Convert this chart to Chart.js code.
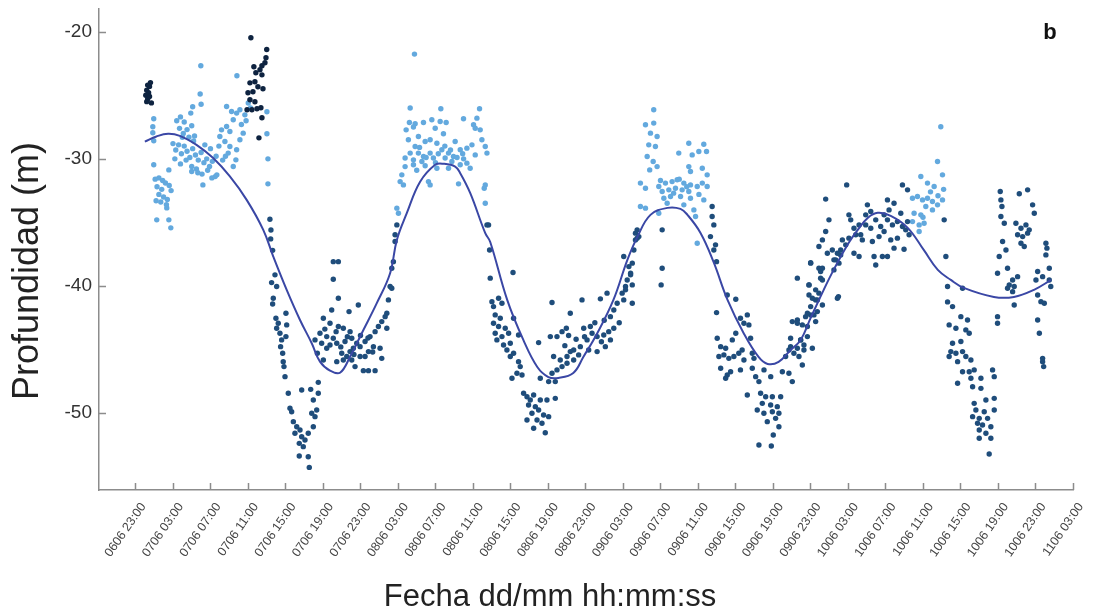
<!DOCTYPE html>
<html>
<head>
<meta charset="utf-8">
<script src="https://cdn.jsdelivr.net/npm/chart.js@4.4.0/dist/chart.umd.min.js"></script>
<style>
  html, body { margin: 0; padding: 0; background: #fff; }
</style>
</head>
<body>
<canvas id="grafico" width="1101" height="609"></canvas>
<script>
// Horas contadas desde 06/06 23:00, profundidad en metros
const horasTicks = [0, 4, 8, 12, 16, 20, 24, 28, 32, 36, 40, 44, 48, 52, 56, 60, 64, 68, 72, 76, 80, 84, 88, 92, 96, 100];
const fechaEtiquetas = [
  '0606 23:00', '0706 03:00', '0706 07:00', '0706 11:00', '0706 15:00', '0706 19:00', '0706 23:00',
  '0806 03:00', '0806 07:00', '0806 11:00', '0806 15:00', '0806 19:00', '0806 23:00',
  '0906 03:00', '0906 07:00', '0906 11:00', '0906 15:00', '0906 19:00', '0906 23:00',
  '1006 03:00', '1006 07:00', '1006 11:00', '1006 15:00', '1006 19:00', '1006 23:00', '1106 03:00'
];
const profTicks = [-50, -40, -30, -20];

// primeras horas (registros más oscuros)
const puntosOscuros = [
  [1.1,-25.0],[1.2,-24.6],[1.3,-25.3],[1.4,-24.8],[1.5,-24.3],[1.6,-24.0],[1.7,-25.6],[1.3,-24.2],[1.5,-25.1],[1.2,-25.5],
  [12.31,-20.47],[14.0,-21.4],[13.92,-22.05],[13.81,-22.44],[12.63,-22.76],[12.84,-23.23],[13.28,-22.99],[13.49,-22.68],
  [13.49,-23.39],[12.21,-24.02],[12.74,-23.94],[13.06,-24.33],[13.6,-24.49],[12.0,-24.8],[12.53,-24.72],[12.21,-25.35],
  [12.74,-25.51],[11.9,-26.14],[12.42,-26.14],[12.96,-26.06],[13.38,-25.98],[13.49,-26.77],[13.17,-28.35]
];

// registros diurnos
const puntosDia = [
  [1.95,-26.85],[1.85,-27.48],[1.85,-27.95],[1.95,-28.58],[1.95,-30.47],[3.56,-30.87],
  [2.1,-31.6],[2.5,-31.5],[2.9,-31.7],[3.2,-31.9],[3.6,-32.1],[3.8,-32.5],[2.3,-32.2],[2.8,-32.4],[2.5,-32.8],[3.0,-33.0],
  [3.4,-33.2],[2.2,-33.3],[2.7,-33.4],[3.3,-33.6],[3.34,-33.86],[2.27,-34.8],[3.56,-34.8],[3.77,-35.43],
  [4.4,-27.0],[4.8,-26.7],[5.2,-27.1],[4.7,-27.6],[5.1,-28.0],[5.5,-27.7],[6.0,-27.4],[5.7,-28.3],[6.3,-28.2],[6.1,-25.9],
  [7.0,-25.7],[6.9,-24.9],[5.9,-26.4],[6.97,-22.68],[10.82,-23.46],
  [4.0,-28.8],[4.3,-29.3],[4.6,-28.9],[4.9,-29.6],[5.2,-29.0],[5.5,-29.4],[5.8,-29.9],[6.1,-29.2],[6.4,-29.7],[6.7,-30.1],
  [7.0,-29.5],[7.3,-30.3],[7.6,-30.0],[7.9,-30.6],[8.2,-30.2],[4.2,-30.0],[4.8,-30.4],[5.4,-30.1],[6.0,-30.6],[6.5,-30.8],
  [7.1,-31.2],[7.7,-30.9],[8.5,-31.4],[5.0,-28.3],[6.2,-28.6],[7.4,-28.9],[8.0,-29.2],[8.6,-29.8],
  [7.19,-32.05],[8.15,-31.5],[8.68,-31.26],[6.0,-31.0],[6.65,-31.1],
  [9.72,-25.88],[10.25,-26.27],[10.79,-26.4],[11.14,-26.14],[11.67,-26.54],[10.43,-26.93],[9.72,-27.46],[10.07,-27.85],
  [9.18,-27.72],[9.0,-28.24],[9.54,-28.64],[10.07,-29.03],[10.79,-29.29],[11.14,-28.5],[11.49,-27.98],[10.71,-30.08],
  [9.89,-29.55],[10.43,-30.6],[9.3,-30.1],[9.6,-29.8],[8.9,-29.0],[11.3,-27.3],[11.8,-27.0],
  [12.03,-25.61],[12.28,-26.0],[14.02,-26.3],[14.02,-28.03],[14.13,-30.0],[14.13,-31.97],
  // 08/06
  [27.88,-33.88],[28.05,-34.28],[29.76,-21.76],[29.3,-26.0],[32.57,-26.06],[36.7,-26.06],[29.22,-27.14],[29.83,-27.24],
  [30.72,-27.14],[31.61,-26.93],[32.5,-27.06],[33.14,-27.14],[34.99,-26.85],[36.06,-27.32],[36.42,-26.8],[28.87,-27.72],
  [29.65,-27.5],[30.18,-28.24],[31.97,-27.59],[32.85,-28.03],[36.24,-27.59],[36.77,-27.72],[36.95,-28.5],[37.31,-29.03],
  [37.49,-29.55],[29.11,-28.5],[29.83,-29.03],[30.9,-28.64],[31.43,-28.5],[32.15,-28.77],[34.1,-28.64],[29.3,-29.55],
  [30.18,-29.55],[30.72,-29.82],[31.43,-29.55],[32.68,-29.29],[33.39,-29.55],[33.92,-29.82],[34.64,-29.29],[35.35,-29.16],
  [35.89,-28.9],[28.76,-29.94],[29.65,-30.08],[30.55,-30.21],[31.78,-29.94],[33.03,-29.94],[33.75,-30.21],[34.64,-30.47],
  [35.35,-30.34],[29.65,-30.47],[28.76,-30.61],[30.9,-30.55],[32.15,-30.74],[33.39,-30.74],[28.41,-31.26],[28.23,-31.79],
  [28.58,-32.05],[31.25,-31.79],[31.43,-32.05],[34.46,-31.97],[37.31,-32.05],[37.2,-32.31],[37.31,-33.49],[35.7,-30.74],
  [36.24,-29.69],[33.0,-29.0],[34.3,-29.9],[32.0,-30.3],[30.3,-29.1],[35.0,-30.0],[31.0,-29.9],[33.6,-29.3],[34.9,-29.6],
  [32.3,-29.6],[30.0,-30.9],
  // 09/06
  [55.28,-26.14],[54.4,-27.32],[55.28,-27.19],[54.93,-27.98],[55.64,-28.24],[54.75,-28.9],[55.46,-29.03],[54.58,-29.82],
  [55.22,-30.21],[54.85,-30.87],[55.64,-30.61],[59.02,-28.77],[60.62,-28.85],[57.95,-29.55],[59.38,-29.69],[60.09,-29.42],
  [60.91,-29.42],[59.02,-30.61],[60.46,-30.74],[59.2,-31.0],[60.98,-31.26],[53.86,-31.91],[54.4,-32.31],[55.82,-32.18],
  [56.53,-31.91],[57.24,-31.79],[57.78,-31.65],[58.49,-31.91],[59.2,-32.05],[59.92,-32.18],[60.46,-31.91],[60.98,-32.18],
  [56.18,-32.57],[56.89,-32.44],[57.6,-32.31],[58.31,-32.44],[59.02,-32.57],[56.36,-33.1],[57.07,-32.97],[58.14,-32.97],
  [59.2,-33.1],[60.62,-33.23],[56.71,-33.49],[53.86,-33.75],[54.4,-33.88],[55.82,-34.28],[59.56,-34.02],[59.74,-34.54],
  [59.92,-36.64],[58.49,-33.62],[57.4,-32.7],[58.8,-32.2],[60.1,-32.8],[56.0,-31.7],[58.0,-31.6],
  // 10/06
  [85.55,-30.21],[86.08,-31.26],[83.77,-31.39],[84.48,-31.91],[85.19,-32.18],[82.88,-33.1],[83.41,-32.97],[83.95,-33.23],
  [84.48,-33.1],[85.01,-33.36],[85.55,-33.62],[86.08,-33.23],[84.3,-33.75],[85.01,-34.02],[83.05,-34.28],[83.77,-34.41],
  [82.88,-34.94],[83.59,-35.2],[84.12,-35.07],[83.59,-35.72],[85.9,-27.48],[84.8,-32.6],[85.6,-32.9],[86.2,-32.4],[84.0,-34.6]
];

// registros nocturnos
const puntosNoche = [
  [14.34,-34.75],[14.45,-35.6],[14.42,-36.3],[14.63,-37.2],[14.88,-39.13],[14.52,-39.74],[15.06,-40.05],[14.7,-40.97],
  [14.63,-41.42],[14.98,-42.54],[15.23,-42.94],[15.06,-43.33],[15.41,-43.73],[15.59,-44.25],[15.48,-44.78],[15.7,-45.3],
  [15.76,-45.96],[15.84,-46.35],[15.95,-47.14],[16.05,-42.15],[16.13,-43.07],[16.05,-43.99],[16.3,-48.45],[16.48,-49.63],
  [16.66,-49.9],[16.84,-50.68],[17.2,-51.08],[17.01,-51.6],[17.55,-51.34],[17.73,-51.87],[17.47,-52.39],[18.08,-52.13],
  [18.43,-51.6],[17.9,-52.65],[17.47,-53.39],[18.43,-53.44],[18.54,-54.28],[17.73,-48.19],[18.69,-48.14],[19.5,-47.59],
  [19.5,-48.45],[18.97,-48.98],[19.33,-49.76],[19.15,-50.29],[18.97,-51.08],[18.8,-50.02],
  [21.1,-38.09],[21.64,-38.09],[21.1,-39.48],[21.64,-40.97],[20.93,-41.89],[23.77,-41.5],[22.78,-42.02],[20.04,-42.54],
  [20.75,-42.94],[21.64,-43.2],[22.17,-43.33],[22.89,-43.6],[19.68,-43.73],[20.4,-43.99],[21.1,-44.12],[19.15,-44.25],
  [19.86,-44.51],[20.75,-44.65],[21.47,-44.51],[22.35,-44.38],[23.07,-44.12],[23.6,-44.51],[23.96,-44.78],[24.49,-44.38],
  [25.02,-43.99],[25.56,-43.6],[25.91,-43.2],[26.27,-42.81],[26.63,-42.42],[26.81,-43.33],[25.38,-44.78],[26.09,-44.91],
  [24.85,-45.17],[22.89,-45.17],[22.0,-45.3],[22.54,-45.56],[20.04,-45.83],[21.47,-45.96],[22.17,-45.83],[23.42,-46.35],
  [24.31,-46.67],[24.85,-46.67],[25.56,-46.67],[26.27,-45.7],[20.4,-44.91],[23.24,-44.91],[23.96,-45.56],[24.49,-45.56],
  [23.07,-45.83],[21.9,-44.8],[22.6,-44.0],[23.3,-45.4],[24.0,-43.9],[24.8,-44.1],[25.3,-45.2],[21.4,-43.6],[20.2,-43.4],
  [19.4,-45.3],
  [26.81,-42.15],[26.98,-41.1],[27.16,-40.05],[27.34,-40.18],[27.34,-38.61],[27.51,-38.09],[27.69,-36.51],[27.69,-35.98],
  [27.88,-35.2],[37.49,-35.2],
  // 08/06 noche
  [37.66,-35.2],[37.77,-37.17],[40.27,-38.95],[37.84,-39.39],[38.02,-41.24],[38.19,-41.63],[38.73,-40.97],[39.09,-41.36],
  [38.37,-42.28],[38.91,-42.54],[38.19,-42.94],[38.73,-43.2],[39.44,-43.33],[38.37,-43.73],[39.09,-43.99],[39.8,-43.73],
  [38.55,-44.25],[39.26,-44.65],[39.98,-44.51],[39.62,-45.04],[40.33,-45.3],[39.98,-45.56],[40.86,-45.96],[41.04,-46.35],
  [40.69,-46.87],[41.23,-47.01],[40.16,-47.27],[40.86,-43.86],[40.33,-42.54],[43.0,-44.46],[43.18,-47.27],[41.4,-48.45],
  [41.76,-48.72],[42.11,-48.98],[42.47,-48.58],[41.93,-49.37],[42.65,-49.5],[43.0,-49.76],[42.29,-50.02],[43.18,-48.98],
  [43.89,-48.98],[44.78,-48.85],[43.53,-50.16],[44.07,-50.29],[42.83,-50.55],[41.76,-50.55],[43.36,-50.81],[42.47,-51.2],
  [43.71,-51.55],
  [44.43,-41.31],[46.38,-42.15],[47.63,-41.1],[49.59,-41.02],[44.25,-43.99],[44.96,-43.99],[45.96,-43.33],[45.5,-43.6],
  [44.6,-45.56],[45.31,-45.83],[46.03,-45.56],[46.74,-45.04],[47.45,-44.78],[48.17,-44.25],[48.7,-43.73],[49.24,-43.99],
  [49.95,-43.86],[50.48,-43.6],[51.02,-43.33],[47.81,-43.33],[48.52,-43.2],[44.43,-46.87],[44.96,-46.61],[45.5,-46.35],
  [46.03,-46.09],[46.74,-45.83],[47.27,-45.43],[46.38,-45.17],[48.34,-45.04],[49.24,-45.17],[50.12,-44.78],[50.66,-44.25],
  [44.07,-47.53],[44.78,-47.53],[50.66,-42.42],[51.02,-41.89],[51.38,-41.36],[51.91,-40.57],[52.27,-40.05],[52.45,-39.53],
  [52.81,-39.13],[52.63,-38.48],[52.08,-37.69],[52.99,-39.92],[52.99,-41.36],[53.33,-35.85],[53.51,-36.24],
  [47.0,-44.2],[47.9,-44.0],[49.7,-44.4],[45.8,-44.7],[46.2,-43.9],[49.0,-42.9],[50.0,-42.7],[51.6,-42.9],
  // 09/06
  [53.51,-35.59],[53.69,-36.12],[53.33,-36.38],[53.16,-37.17],[56.18,-35.59],[56.18,-38.61],[56.07,-39.92],[52.99,-38.21],
  [52.81,-39.0],[52.27,-40.31],[52.08,-41.1],[50.3,-40.57],[61.51,-33.75],[61.51,-34.54],[61.69,-35.2],[61.33,-36.12],
  [61.87,-36.77],[61.98,-38.09],[64.03,-41.05],[63.12,-40.71],
  [61.69,-37.17],[61.98,-42.1],[64.53,-42.54],[65.26,-42.28],[64.9,-42.94],[65.43,-43.07],[62.05,-44.12],[62.42,-44.78],
  [62.95,-44.91],[63.66,-44.25],[64.03,-43.73],[62.23,-45.56],[62.76,-45.43],[63.29,-45.7],[63.83,-45.56],[64.35,-45.3],
  [64.71,-45.04],[64.9,-45.83],[65.61,-44.12],[65.79,-45.3],[65.97,-45.7],[62.42,-46.48],[63.12,-47.01],[63.48,-46.75],
  [64.53,-46.61],[65.79,-46.48],[62.95,-47.27],[67.04,-46.61],[66.15,-47.14],[66.5,-47.53],[67.76,-47.14],[65.26,-48.58],
  [66.68,-48.45],[67.22,-48.72],[67.93,-48.72],[68.82,-48.72],[66.86,-49.24],[67.75,-49.37],[68.46,-49.5],[66.32,-49.76],
  [67.03,-50.02],[67.93,-49.9],[68.63,-50.02],[67.39,-50.68],[68.28,-50.42],[68.63,-51.08],[68.03,-51.73],[66.5,-52.52],
  [67.82,-52.6],
  [69.0,-46.75],[69.7,-46.87],[70.06,-47.53],[69.35,-45.56],[69.7,-45.04],[70.23,-45.3],[70.77,-45.56],[71.13,-46.22],
  [69.88,-44.78],[70.6,-44.91],[71.3,-45.04],[72.2,-44.91],[69.88,-44.12],[70.95,-44.25],[71.3,-44.65],[70.06,-42.81],
  [70.6,-42.68],[71.13,-43.07],[71.67,-43.2],[71.48,-42.42],[72.02,-42.28],[72.55,-42.81],[72.73,-42.02],[72.02,-41.63],
  [72.55,-41.1],[71.84,-40.71],[72.9,-40.57],[70.6,-39.39],[71.84,-39.92],[72.55,-40.31],[73.27,-41.5],[72.02,-38.21],
  [72.9,-38.61],[73.08,-38.87],[73.27,-39.53],[74.87,-40.97],[74.5,-37.95],[75.04,-38.21],[75.22,-37.56],[73.8,-37.43],
  // 10/06
  [75.86,-32.05],[73.62,-33.17],[73.97,-34.8],[73.62,-35.72],[73.27,-36.38],[72.9,-36.9],[72.02,-38.17],[73.27,-38.61],
  [73.08,-39.39],[71.84,-39.92],[72.2,-40.97],[72.73,-41.1],[71.67,-42.15],[72.37,-42.28],[70.6,-42.94],[74.5,-38.74],
  [74.69,-37.95],[74.87,-37.43],[74.33,-37.17],[75.22,-37.17],[75.76,-36.77],[75.4,-36.38],[76.1,-36.24],[76.83,-35.98],
  [77.36,-35.98],[76.64,-35.46],[76.29,-34.8],[76.1,-34.41],[77.18,-35.2],[77.89,-35.2],[78.43,-35.46],[77.53,-36.38],
  [78.6,-36.51],[79.31,-36.12],[79.85,-35.72],[78.07,-33.62],[78.43,-34.15],[77.89,-34.41],[78.96,-34.8],[79.49,-35.33],
  [80.21,-34.8],[80.74,-35.2],[81.27,-34.94],[81.81,-35.33],[82.35,-34.94],[80.21,-33.23],[80.91,-33.49],[80.38,-34.02],
  [79.85,-34.41],[81.81,-32.05],[82.35,-32.44],[81.63,-34.28],[82.16,-35.59],[82.52,-35.98],[80.56,-36.38],[81.27,-36.24],
  [80.91,-37.03],[81.98,-37.11],[78.78,-37.69],[79.67,-37.69],[80.21,-37.69],[78.96,-38.35],[77.18,-37.69],[76.64,-37.43],
  [74.98,-40.84],[71.67,-43.99],[70.95,-44.25],[86.26,-34.8],[86.44,-37.69],[86.62,-40.05],
  [86.62,-41.26],[87.15,-41.63],[88.22,-40.18],[88.04,-42.42],[88.75,-42.68],[86.79,-43.07],[87.51,-43.33],[88.57,-43.46],
  [88.93,-43.73],[87.15,-44.51],[88.04,-44.38],[86.97,-45.17],[87.51,-45.3],[88.22,-45.17],[88.57,-45.56],[86.79,-45.56],
  [87.69,-45.96],[89.11,-45.83],[88.22,-46.75],[88.93,-46.75],[89.46,-46.61],[87.69,-47.66],[89.11,-47.27],[90.18,-47.27],
  [91.42,-46.61],[91.6,-47.14],[89.29,-47.93],[90.18,-48.06],[90.71,-48.98],[89.46,-49.24],[91.6,-48.85],[89.64,-49.76],
  [90.53,-49.9],[91.6,-49.76],[89.29,-50.29],[90.0,-50.42],[90.89,-50.42],[89.82,-50.81],[90.35,-50.94],[91.24,-51.08],
  [90.0,-51.34],[90.71,-51.6],[90.0,-51.99],[91.24,-51.99],[91.06,-53.23],[91.95,-42.42],[91.95,-42.94],
  [92.24,-32.57],[94.27,-32.75],[95.16,-32.44],[92.31,-33.23],[92.42,-33.75],[95.69,-33.62],[92.31,-34.54],[92.67,-35.07],
  [95.87,-34.28],[93.91,-35.07],[94.45,-35.46],[94.98,-35.2],[95.33,-35.59],[94.09,-35.98],[94.63,-36.12],[95.16,-35.85],
  [94.45,-36.64],[94.8,-36.9],[92.49,-36.51],[92.85,-37.17],[92.13,-37.69],[93.02,-38.61],[91.95,-39.0],[94.09,-39.27],
  [93.56,-39.53],[93.2,-39.92],[93.02,-40.18],[93.73,-40.05],[93.56,-40.45],[93.73,-41.5],[97.11,-36.64],[97.22,-37.03],
  [97.11,-37.56],[97.47,-38.61],[96.23,-38.87],[96.76,-39.27],[97.47,-39.53],[96.05,-39.53],[97.63,-40.05],[96.23,-40.71],
  [96.58,-41.24],[96.94,-41.36],[96.23,-42.68],[96.41,-43.73],[96.76,-45.7],[96.76,-45.96],[96.87,-46.35]
];

// curva suavizada
const tendencia = [
  [1.0,-28.64],[2.24,-28.24],[3.48,-28.03],[4.73,-28.19],[6.51,-28.9],[8.29,-29.94],[10.07,-31.39],[11.86,-33.23],
  [13.63,-35.59],[14.7,-37.69],[16.13,-40.31],[17.55,-42.68],[18.8,-44.51],[19.68,-45.96],[20.75,-46.67],[21.82,-46.83],
  [22.89,-45.57],[24.14,-43.72],[25.74,-41.36],[27.16,-39.0],[27.88,-36.38],[28.94,-34.28],[30.36,-31.81],[31.97,-30.47],
  [32.85,-30.39],[34.1,-30.61],[34.64,-31.13],[35.71,-32.7],[37.31,-35.85],[37.84,-36.54],[39.65,-41.1],[41.37,-44.25],
  [42.86,-46.38],[44.04,-47.17],[45.1,-47.24],[46.7,-46.85],[47.77,-45.59],[49.27,-43.7],[50.98,-41.1],[52.47,-37.95],
  [53.54,-36.14],[54.93,-34.41],[56.75,-33.86],[58.13,-33.94],[58.88,-34.41],[60.27,-35.83],[61.66,-38.11],[63.15,-41.1],
  [64.86,-43.7],[66.46,-45.59],[67.43,-46.14],[68.6,-45.98],[69.88,-45.04],[70.95,-44.25],[72.02,-42.52],[73.41,-40.31],
  [74.47,-38.74],[76.08,-36.61],[77.04,-35.59],[78.1,-34.65],[79.17,-34.25],[80.56,-34.49],[82.37,-35.43],[84.08,-37.17],
  [85.58,-38.74],[86.97,-39.53],[88.36,-40.16],[91.56,-40.87],[93.7,-40.87],[95.84,-40.31],[97.65,-39.53]
];

const aPuntos = arr => arr.map(p => ({ x: p[0], y: p[1] }));
const fuente = "'Liberation Sans', Arial, sans-serif";
const colorEje = '#8c8c8c';

// ticks hacia dentro, títulos de ejes y la letra del panel
const decoracion = {
  id: 'decoracion',
  afterDraw(chart) {
    const ctx = chart.ctx;
    const xs = chart.scales.x, ys = chart.scales.y;
    const area = chart.chartArea;
    ctx.save();
    ctx.strokeStyle = colorEje;
    ctx.lineWidth = 1.5;
    ctx.beginPath();
    xs.ticks.forEach(t => {
      const px = Math.round(xs.getPixelForValue(t.value)) + 0.5;
      ctx.moveTo(px, area.bottom);
      ctx.lineTo(px, area.bottom - 7);
    });
    ys.ticks.forEach(t => {
      const py = Math.round(ys.getPixelForValue(t.value)) + 0.5;
      ctx.moveTo(area.left, py);
      ctx.lineTo(area.left + 7, py);
    });
    ctx.stroke();

    ctx.fillStyle = '#222';
    ctx.textAlign = 'center';
    ctx.textBaseline = 'middle';
    ctx.font = '31px ' + fuente;
    ctx.fillText('Fecha dd/mm hh:mm:ss', 550, 597);
    ctx.save();
    ctx.translate(28, 271);
    ctx.rotate(-Math.PI / 2);
    ctx.font = '36px ' + fuente;
    ctx.fillText('Profundidad (m)', 0, 0);
    ctx.restore();

    ctx.fillStyle = '#111';
    ctx.font = 'bold 22px ' + fuente;
    ctx.fillText('b', 1050, 33);
    ctx.restore();
  }
};

new Chart(document.getElementById('grafico'), {
  type: 'scatter',
  data: {
    datasets: [
      {
        type: 'line',
        data: aPuntos(tendencia),
        borderColor: '#3a47a5',
        borderWidth: 2,
        pointRadius: 0,
        tension: 0.4,
        fill: false,
        order: 0
      },
      {
        data: aPuntos(puntosOscuros),
        backgroundColor: '#0e2340',
        pointRadius: 2.7,
        pointBorderWidth: 0,
        order: 1
      },
      {
        data: aPuntos(puntosNoche),
        backgroundColor: '#1f4d7b',
        pointRadius: 2.7,
        pointBorderWidth: 0,
        order: 2
      },
      {
        data: aPuntos(puntosDia),
        backgroundColor: '#63a9de',
        pointRadius: 2.7,
        pointBorderWidth: 0,
        order: 3
      }
    ]
  },
  options: {
    responsive: false,
    animation: false,
    devicePixelRatio: 1,
    layout: { padding: { top: 9, right: 28, left: 0, bottom: 0 } },
    plugins: { legend: { display: false }, tooltip: { enabled: false } },
    scales: {
      x: {
        type: 'linear',
        min: -3.89,
        max: 100,
        afterBuildTicks: s => { s.ticks = horasTicks.map(v => ({ value: v })); },
        afterFit: s => { s.height = 119; s.paddingLeft = 0; s.paddingRight = 0; },
        grid: { display: true, drawOnChartArea: false, drawTicks: false },
        border: { display: true, color: colorEje, width: 1.5 },
        ticks: {
          autoSkip: false,
          minRotation: 55,
          maxRotation: 55,
          padding: 10,
          labelOffset: 8,
          color: '#444',
          font: { family: fuente, size: 12.5 },
          callback: v => fechaEtiquetas[horasTicks.indexOf(v)]
        }
      },
      y: {
        type: 'linear',
        min: -56.06,
        max: -18.21,
        afterBuildTicks: s => { s.ticks = profTicks.map(v => ({ value: v })); },
        afterFit: s => { s.width = 99; s.paddingTop = 0; s.paddingBottom = 0; },
        grid: { display: true, drawOnChartArea: false, drawTicks: false },
        border: { display: true, color: colorEje, width: 1.5 },
        ticks: {
          padding: 7,
          color: '#333',
          font: { family: fuente, size: 19 },
          callback: v => String(v)
        }
      }
    }
  },
  plugins: [decoracion]
});
</script>
</body>
</html>
